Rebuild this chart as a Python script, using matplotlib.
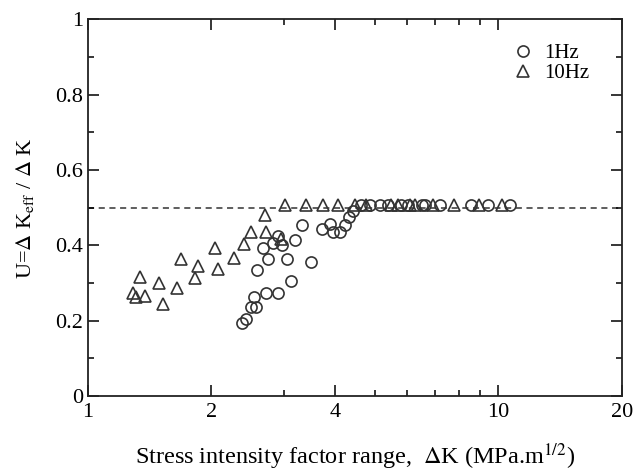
import numpy as np
import matplotlib
matplotlib.use('Agg')
import matplotlib.pyplot as plt
from matplotlib.ticker import FixedLocator, NullFormatter

plt.rcParams['font.family'] = ['Liberation Serif', 'DejaVu Serif']
plt.rcParams['mathtext.fontset'] = 'stix'

# 1 Hz data (circles)
dk_1hz = [2.37, 2.43, 2.50, 2.54, 2.57, 2.59, 2.68, 2.72, 2.75, 2.83, 2.90, 2.91,
          2.98, 3.05, 3.12, 3.20, 3.32, 3.49, 3.72, 3.90, 3.96, 4.12, 4.24, 4.32,
          4.42, 4.63, 4.86, 5.15, 5.39, 5.80, 6.03, 6.50, 6.64, 7.22, 8.60, 9.46, 10.7]
u_1hz = [0.194, 0.205, 0.236, 0.264, 0.236, 0.334, 0.392, 0.273, 0.363, 0.405, 0.273, 0.425,
         0.402, 0.363, 0.306, 0.415, 0.453, 0.355, 0.443, 0.457, 0.436, 0.436, 0.455, 0.475,
         0.492, 0.506, 0.506, 0.506, 0.506, 0.506, 0.506, 0.506, 0.506, 0.506, 0.506, 0.506, 0.506]

# 10 Hz data (triangles)
dk_10hz = [1.29, 1.31, 1.34, 1.38, 1.49, 1.53, 1.65, 1.69, 1.83, 1.86, 2.04, 2.08,
           2.27, 2.40, 2.50, 2.70, 2.72, 2.95, 3.02, 3.40, 3.75, 4.08, 4.48, 4.76,
           5.48, 5.70, 6.11, 6.28, 6.93, 7.80, 8.95, 10.2]
u_10hz = [0.274, 0.262, 0.315, 0.265, 0.301, 0.244, 0.286, 0.363, 0.313, 0.344, 0.394, 0.336,
          0.365, 0.404, 0.436, 0.480, 0.435, 0.416, 0.506, 0.506, 0.506, 0.506, 0.506, 0.506,
          0.506, 0.506, 0.506, 0.506, 0.506, 0.506, 0.506, 0.506]

u_ref = 0.5

x_major = [1, 2, 4, 10, 20]
x_labels = ['1', '2', '4', '10', '20']
x_minor = [3, 5, 6, 7, 8, 9]
y_major = [0, 0.2, 0.4, 0.6, 0.8, 1.0]
y_labels = ['0', '0.2', '0.4', '0.6', '0.8', '1']
y_minor = [0.1, 0.3, 0.5, 0.7, 0.9]

fig = plt.figure(figsize=(6.35, 4.73), dpi=100)
ax = fig.add_axes([0.138, 0.163, 0.8415, 0.796])

ax.axhline(u_ref, color='#333333', linestyle=(0, (4, 3)), linewidth=1.1, zorder=1)

ax.plot(dk_1hz, u_1hz, linestyle='none', marker='o', markersize=8,
        mfc='none', mec='#333333', mew=1.2, label='1Hz')
ax.plot(dk_10hz, u_10hz, linestyle='none', marker='^', markersize=8.5,
        mfc='none', mec='#333333', mew=1.2, label='10Hz')

ax.set_xscale('log')
ax.set_xlim(1, 20)
ax.set_ylim(0, 1)

ax.xaxis.set_major_locator(FixedLocator(x_major))
ax.set_xticklabels(x_labels)
ax.xaxis.set_minor_locator(FixedLocator(x_minor))
ax.xaxis.set_minor_formatter(NullFormatter())
ax.yaxis.set_major_locator(FixedLocator(y_major))
ax.set_yticklabels(y_labels)
ax.yaxis.set_minor_locator(FixedLocator(y_minor))

ax.tick_params(which='both', direction='in', top=True, right=True, labelsize=16)
ax.tick_params(axis='y', pad=3)
ax.tick_params(axis='x', pad=5)
ax.tick_params(which='major', length=8, width=1.1)
ax.tick_params(which='minor', length=4, width=1.1)
for s in ax.spines.values():
    s.set_linewidth(1.3)
    s.set_color('#222222')

ax.set_xlabel(r'Stress intensity factor range,  $\Delta$K (MPa.m$^{1/2}$)', fontsize=17.5, labelpad=14)
ax.set_ylabel(r'U=$\Delta$ K$_{\rm eff}$ / $\Delta$ K', fontsize=16, labelpad=14)

ax.legend(loc='upper right', frameon=False, fontsize=15, handletextpad=0.4,
          borderaxespad=0.6, labelspacing=0.05, handlelength=1.2,
          bbox_to_anchor=(0.978, 0.992))

fig.savefig('out.png', dpi=100)
